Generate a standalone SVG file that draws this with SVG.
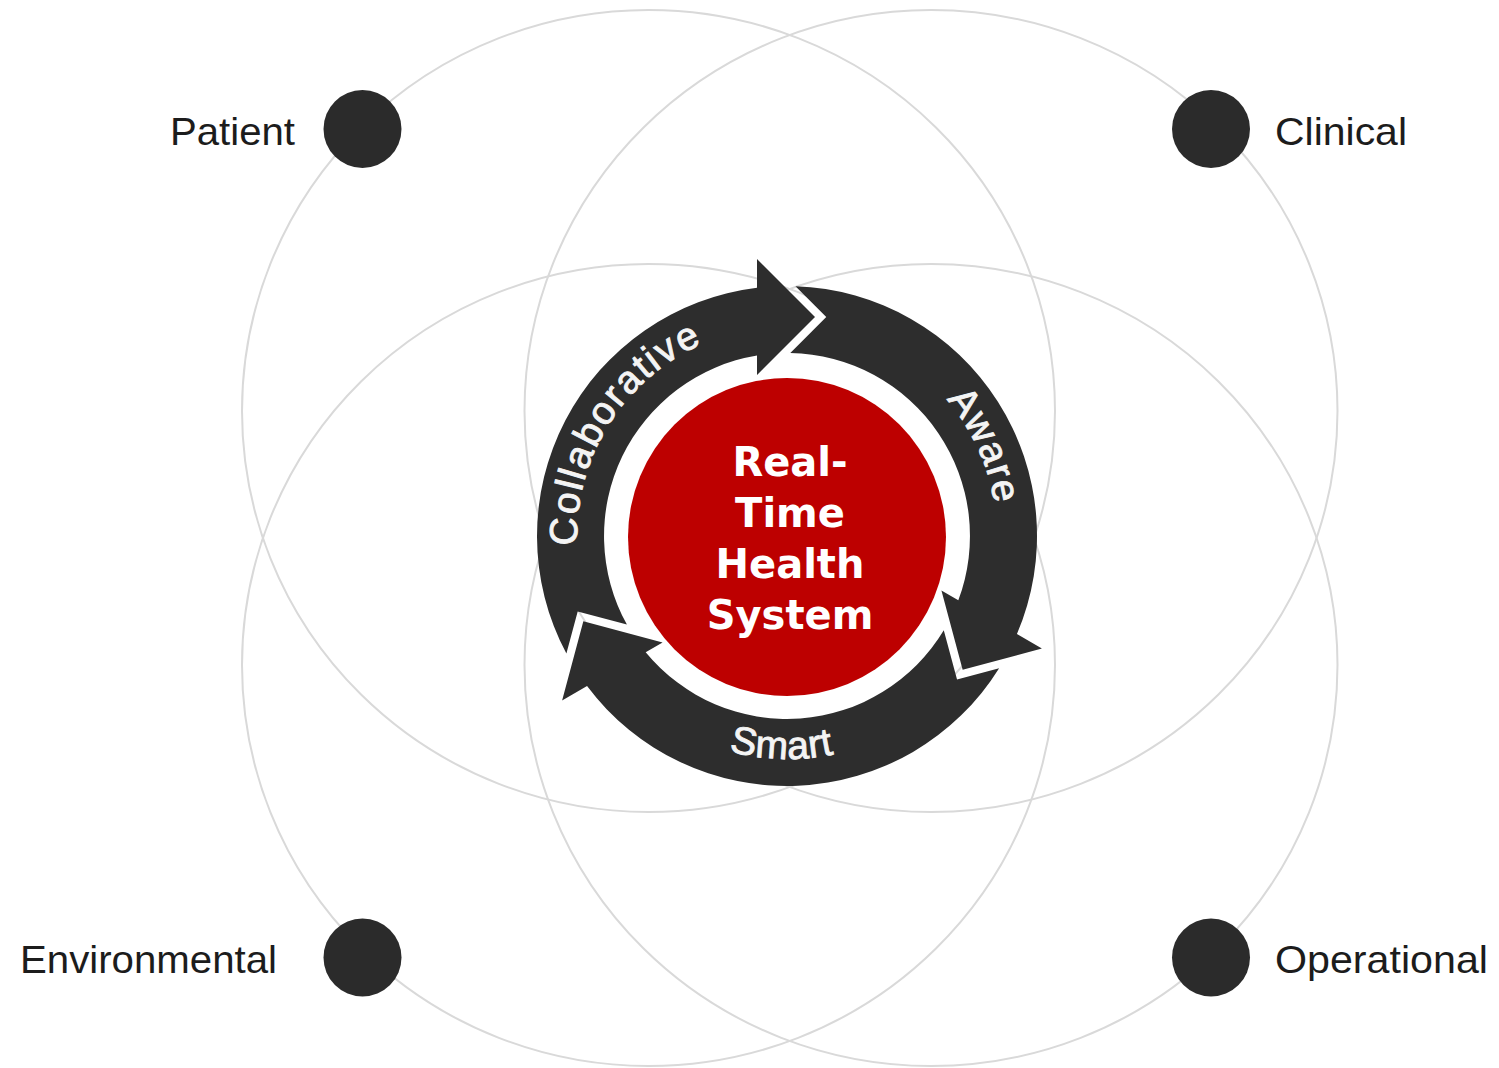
<svg xmlns="http://www.w3.org/2000/svg" width="1499" height="1068" viewBox="0 0 1499 1068">
  <style>
    .ring { fill: none; stroke: #d9d9d9; stroke-width: 2; }
    .dot { fill: #2b2b2b; }
    .label { font-family: "Liberation Sans", Arial, sans-serif; font-size: 39px; fill: #1c1c1c; }
    .arrow { fill: #2d2d2d; }
    .arctext { font-family: "Liberation Sans", Arial, sans-serif; font-size: 39px; fill: #f4f4f4; stroke: #f4f4f4; stroke-width: 0.9; }
    .core { font-family: "DejaVu Sans", "Liberation Sans", sans-serif; font-weight: bold; font-size: 40px; fill: #ffffff; text-anchor: middle; }
  </style>
  <defs>
    <path id="arrowShape" d="M -220.6 117.6 A 250 250 0 0 1 -30 -248.2 L -30 -277 L 28 -219 L -30 -161 L -30 -180.5 A 183 183 0 0 0 -160.1 88.6 L -209.3 75.5 Z"/>
    <path id="pathCollab" d="M -185.4 98.6 A 210 210 0 0 1 7.3 -209.9"/>
    <path id="pathAware" d="M 20.1 -209.0 A 210 210 0 0 1 171.0 121.9"/>
    <path id="pathSmart" d="M -196.0 106.4 A 224 224 0 0 0 190.9 117.0"/>
  </defs>
  <rect width="1499" height="1068" fill="#ffffff"/>

  <g id="domain-rings">
    <ellipse class="ring" cx="648.5" cy="411" rx="406.5" ry="401"/>
    <ellipse class="ring" cx="931" cy="411" rx="406.5" ry="401"/>
    <ellipse class="ring" cx="648.5" cy="665" rx="406.5" ry="401"/>
    <ellipse class="ring" cx="931" cy="665" rx="406.5" ry="401"/>
  </g>

  <g id="connectors" transform="translate(787,536)">
    <g id="arrow-collaborative">
      <use href="#arrowShape" class="arrow"/>
      <text class="arctext" letter-spacing="2"><textPath href="#pathCollab" startOffset="50%" text-anchor="middle">Collaborative</textPath></text>
    </g>
    <g id="arrow-aware">
      <use href="#arrowShape" class="arrow" transform="rotate(120)"/>
      <text class="arctext" letter-spacing="1.5"><textPath href="#pathAware" startOffset="50%" text-anchor="middle">Aware</textPath></text>
    </g>
    <g id="arrow-smart">
      <use href="#arrowShape" class="arrow" transform="rotate(240)"/>
      <text class="arctext" letter-spacing="0.5"><textPath href="#pathSmart" startOffset="50%" text-anchor="middle">Smart</textPath></text>
    </g>
  </g>

  <g id="center-node">
    <circle cx="787" cy="537" r="159" fill="#bd0000"/>
    <text class="core" x="790" y="476">Real-</text>
    <text class="core" x="790" y="527">Time</text>
    <text class="core" x="790" y="578">Health</text>
    <text class="core" x="790" y="629">System</text>
  </g>

  <g id="node-patient">
    <circle class="dot" cx="362.5" cy="129" r="39"/>
    <text class="label" x="170" y="145" textLength="125" lengthAdjust="spacingAndGlyphs">Patient</text>
  </g>
  <g id="node-clinical">
    <circle class="dot" cx="1211" cy="129" r="39"/>
    <text class="label" x="1275" y="145" textLength="132" lengthAdjust="spacingAndGlyphs">Clinical</text>
  </g>
  <g id="node-environmental">
    <circle class="dot" cx="362.5" cy="957.5" r="39"/>
    <text class="label" x="20" y="973" textLength="257" lengthAdjust="spacingAndGlyphs">Environmental</text>
  </g>
  <g id="node-operational">
    <circle class="dot" cx="1211" cy="957.5" r="39"/>
    <text class="label" x="1275" y="973" textLength="213" lengthAdjust="spacingAndGlyphs">Operational</text>
  </g>
</svg>
